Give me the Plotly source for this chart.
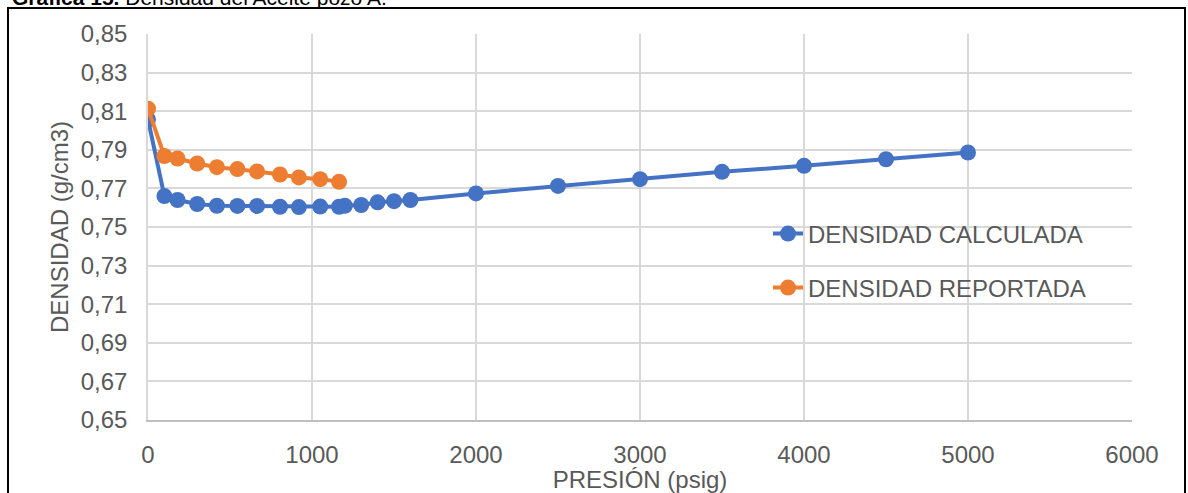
import plotly.graph_objects as go

# Presión (psig) y densidad del aceite (g/cm3)
presion_calc = [0, 100, 180, 300, 420, 545, 665, 805, 920, 1050, 1165, 1200,
                1300, 1400, 1500, 1600, 2000, 2500, 3000, 3500, 4000, 4500, 5000]
densidad_calc = [0.8057, 0.7660, 0.7640, 0.7619, 0.7610, 0.7609, 0.7609, 0.7605,
                 0.7603, 0.7606, 0.7605, 0.7610, 0.7614, 0.7628, 0.7634, 0.7640,
                 0.7674, 0.7713, 0.7748, 0.7786, 0.7817, 0.7851, 0.7886]

presion_rep = [0, 100, 180, 300, 420, 545, 665, 805, 920, 1050, 1165]
densidad_rep = [0.8113, 0.7868, 0.7855, 0.7829, 0.7810, 0.7800, 0.7788,
                0.7772, 0.7757, 0.7748, 0.7734]

x_ticks = [0, 1000, 2000, 3000, 4000, 5000, 6000]
y_ticks = [0.65, 0.67, 0.69, 0.71, 0.73, 0.75, 0.77, 0.79, 0.81, 0.83, 0.85]

AZUL = "#4472C4"
NARANJA = "#ED7D31"
GRIS_TEXTO = "#595959"
FUENTE = "Liberation Sans, Arial, sans-serif"

W, H = 1188, 493
ML, MR, MT, MB = 148, 56, 34, 73
PW, PH = W - ML - MR, H - MT - MB


def px_x(px):
    return (px - ML) / PW


def px_y(py):
    return (H - MB - py) / PH


fig = go.Figure()
fig.add_trace(go.Scatter(
    x=presion_calc, y=densidad_calc, mode="lines+markers",
    name="DENSIDAD CALCULADA", legend="legend", showlegend=True,
    line=dict(color=AZUL, width=4),
    marker=dict(color=AZUL, size=16),
))
fig.add_trace(go.Scatter(
    x=presion_rep, y=densidad_rep, mode="lines+markers",
    name="DENSIDAD REPORTADA", legend="legend2", showlegend=True,
    line=dict(color=NARANJA, width=4),
    marker=dict(color=NARANJA, size=16),
))

leg_common = dict(
    font=dict(family=FUENTE, size=24, color=GRIS_TEXTO),
    bgcolor="rgba(0,0,0,0)", borderwidth=0,
    xanchor="left", yanchor="middle", visible=True,
)

fig.update_layout(
    width=W, height=H,
    margin=dict(l=ML, r=MR, t=MT, b=MB),
    paper_bgcolor="white", plot_bgcolor="white",
    separators=",.",
    showlegend=True,
    font=dict(family=FUENTE, size=24, color=GRIS_TEXTO),
    legend=dict(x=px_x(768), y=px_y(234), **leg_common),
    legend2=dict(x=px_x(768), y=px_y(288), **leg_common),
    xaxis=dict(
        range=[0, 6000], tickvals=x_ticks, tickformat="d",
        showgrid=True, gridcolor="#D9D9D9", gridwidth=1.5,
        showline=True, linecolor="#BFBFBF", linewidth=1.5,
        zeroline=False, ticks="", ticklabelstandoff=12, automargin=False,
        tickfont=dict(size=24, color=GRIS_TEXTO),
        title=dict(text="PRESIÓN (psig)", standoff=7,
                   font=dict(size=24, color=GRIS_TEXTO)),
    ),
    yaxis=dict(
        range=[0.65, 0.85], tickvals=y_ticks, tickformat=".2f",
        showgrid=True, gridcolor="#D9D9D9", gridwidth=1.5,
        showline=True, linecolor="#D9D9D9", linewidth=1.5,
        zeroline=False, ticks="", ticklabelstandoff=14, automargin=False,
        tickfont=dict(size=24, color=GRIS_TEXTO),
        title=dict(text="DENSIDAD (g/cm3)", standoff=5,
                   font=dict(size=24, color=GRIS_TEXTO)),
    ),
    shapes=[
        # marco negro alrededor del gráfico
        dict(type="path", xref="paper", yref="paper",
             path=(f"M {px_x(8)},{px_y(520)} L {px_x(8)},{px_y(8)} "
                   f"L {px_x(1185)},{px_y(8)} L {px_x(1185)},{px_y(520)}"),
             line=dict(color="black", width=2)),
    ],
    annotations=[
        dict(text="<b>Gráfica 15.</b> Densidad del Aceite pozo A.",
             xref="paper", yref="paper", x=px_x(10), y=px_y(11),
             xanchor="left", yanchor="bottom", showarrow=False,
             font=dict(family=FUENTE, size=21, color="black")),
    ],
)

fig.write_html("out.html")
